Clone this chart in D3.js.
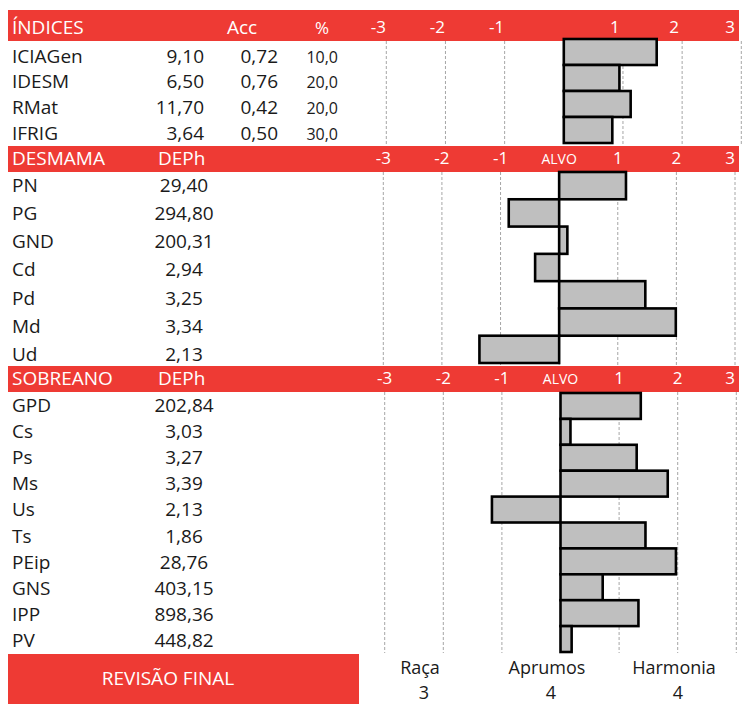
<!DOCTYPE html>
<html>
<head>
<meta charset="utf-8">
<script src="https://cdn.jsdelivr.net/npm/d3@7"></script>
<style>
  html, body { margin: 0; padding: 0; background: #fff; }
  svg { display: block; font-family: "Open Sans", "Noto Sans", sans-serif; }
</style>
</head>
<body>
<svg id="chart" width="748" height="709"></svg>
<script>
// ---------- DATA ----------
const idxNames  = ["ICIAGen", "IDESM", "RMat", "IFRIG"];
const idxValues = ["9,10", "6,50", "11,70", "3,64"];
const idxAcc    = ["0,72", "0,76", "0,42", "0,50"];
const idxPct    = ["10,0", "20,0", "20,0", "30,0"];
const idxBars   = [1.57, 0.94, 1.13, 0.82];

const desNames  = ["PN", "PG", "GND", "Cd", "Pd", "Md", "Ud"];
const desDEPh   = ["29,40", "294,80", "200,31", "2,94", "3,25", "3,34", "2,13"];
const desBars   = [1.14, -0.86, 0.14, -0.41, 1.47, 1.99, -1.36];

const sobNames  = ["GPD", "Cs", "Ps", "Ms", "Us", "Ts", "PEip", "GNS", "IPP", "PV"];
const sobDEPh   = ["202,84", "3,03", "3,27", "3,39", "2,13", "1,86", "28,76", "403,15", "898,36", "448,82"];
const sobBars   = [1.37, 0.17, 1.30, 1.83, -1.17, 1.45, 1.97, 0.72, 1.33, 0.19];

const axisTicks = [-3, -2, -1, 0, 1, 2, 3];
const axisTickLabels = ["-3", "-2", "-1", "", "1", "2", "3"];
const zeroLabel = "ALVO";

const finalNames  = ["Raça", "Aprumos", "Harmonia"];
const finalScores = ["3", "4", "4"];
const finalTitle  = "REVISÃO FINAL";

// ---------- STYLE ----------
const RED = "#ee3a34";
const BAR_FILL = "#bfbfbf";
const TXT = "#1a1a1a";

const svg = d3.select("#chart");

function header(y0, y1, title) {
  svg.append("rect").attr("x", 8).attr("y", y0).attr("width", 731).attr("height", y1 - y0).attr("fill", RED);
  svg.append("text").attr("x", 12).attr("y", y1 - 7.5).attr("fill", "#fff")
    .attr("font-size", 19).text(title);
}

function axisPart(cfg) {
  const x = d3.scaleLinear().domain([-3, 3]).range(cfg.xRange);
  // tick labels in header
  svg.append("g").selectAll("text").data(axisTicks).join("text")
    .attr("x", d => Math.min(x(d) + cfg.labelDx, 730))
    .attr("y", cfg.hy1 - 8.5)
    .attr("text-anchor", "middle")
    .attr("fill", "#fff")
    .attr("font-size", d => d === 0 ? 14 : 17)
    .text((d, i) => d === 0 ? (cfg.alvo ? zeroLabel : "") : axisTickLabels[i]);
  // grid lines
  svg.append("g").selectAll("line").data(axisTicks).join("line")
    .attr("x1", d => x(d)).attr("x2", d => x(d))
    .attr("y1", cfg.gy0).attr("y2", cfg.gy1)
    .attr("stroke", "#a6a6a6").attr("stroke-width", 1)
    .attr("stroke-dasharray", "3,2");
  // bars
  const y = d3.scaleBand().domain(cfg.names).range(cfg.barRange).padding(0);
  svg.append("g").selectAll("rect").data(cfg.bars).join("rect")
    .attr("x", d => Math.min(x(0), x(d)))
    .attr("width", d => Math.abs(x(d) - x(0)))
    .attr("y", (d, i) => y(cfg.names[i]))
    .attr("height", y.bandwidth())
    .attr("fill", BAR_FILL)
    .attr("stroke", "#000")
    .attr("stroke-width", 2.6);
}

function textColumn(names, texts, yRange, x, anchor, size) {
  const ty = d3.scalePoint().domain(names).range(yRange);
  svg.append("g").selectAll("text").data(texts).join("text")
    .attr("x", x)
    .attr("y", (d, i) => ty(names[i]))
    .attr("text-anchor", anchor)
    .attr("fill", TXT)
    .attr("font-size", size)
    .text(d => d);
}

// ---------- SECTION 1: ÍNDICES ----------
header(10, 41, "ÍNDICES");
svg.append("text").attr("x", 242).attr("y", 33.5).attr("text-anchor", "middle")
  .attr("fill", "#fff").attr("font-size", 19).text("Acc");
svg.append("text").attr("x", 322).attr("y", 33.5).attr("text-anchor", "middle")
  .attr("fill", "#fff").attr("font-size", 17).text("%");
axisPart({ xRange: [386.3, 741.3], labelDx: -8, hy1: 41, alvo: false,
  gy0: 41, gy1: 146, names: idxNames, bars: idxBars, barRange: [39, 143] });
const s1y = [62.7, 140];
textColumn(idxNames, idxNames, s1y, 12, "start", 19);
textColumn(idxNames, idxValues, s1y, 204, "end", 19);
textColumn(idxNames, idxAcc, s1y, 278, "end", 19);
textColumn(idxNames, idxPct, s1y, 338, "end", 16);

// ---------- SECTION 2: DESMAMA ----------
header(146, 172, "DESMAMA");
svg.append("text").attr("x", 158).attr("y", 164.5).attr("fill", "#fff").attr("font-size", 19).text("DEPh");
axisPart({ xRange: [383.3, 735], labelDx: 0, hy1: 172, alvo: true,
  gy0: 172, gy1: 366, names: desNames, bars: desBars, barRange: [172, 363] });
const s2y = [191.7, 361];
textColumn(desNames, desNames, s2y, 12, "start", 19);
textColumn(desNames, desDEPh, s2y, 184, "middle", 19);

// ---------- SECTION 3: SOBREANO ----------
header(366, 392, "SOBREANO");
svg.append("text").attr("x", 158).attr("y", 384.5).attr("fill", "#fff").attr("font-size", 19).text("DEPh");
axisPart({ xRange: [384.7, 736.3], labelDx: 0, hy1: 392, alvo: true,
  gy0: 392, gy1: 653, names: sobNames, bars: sobBars, barRange: [393, 652] });
const s3y = [411.7, 647.3];
textColumn(sobNames, sobNames, s3y, 12, "start", 19);
textColumn(sobNames, sobDEPh, s3y, 184, "middle", 19);

// ---------- FINAL ----------
svg.append("rect").attr("x", 8).attr("y", 654).attr("width", 351).attr("height", 50).attr("fill", RED);
svg.append("text").attr("x", 168).attr("y", 685).attr("text-anchor", "middle")
  .attr("fill", "#fff").attr("font-size", 19).text(finalTitle);

const fx = d3.scalePoint().domain(finalNames).range([420, 674]);
svg.append("g").selectAll("text").data(finalNames).join("text")
  .attr("x", d => fx(d)).attr("y", 673.5).attr("text-anchor", "middle")
  .attr("fill", TXT).attr("font-size", 18).text(d => d);
svg.append("g").selectAll("text").data(finalScores).join("text")
  .attr("x", (d, i) => fx(finalNames[i]) + 4).attr("y", 698.5).attr("text-anchor", "middle")
  .attr("fill", TXT).attr("font-size", 18).text(d => d);
</script>
</body>
</html>
